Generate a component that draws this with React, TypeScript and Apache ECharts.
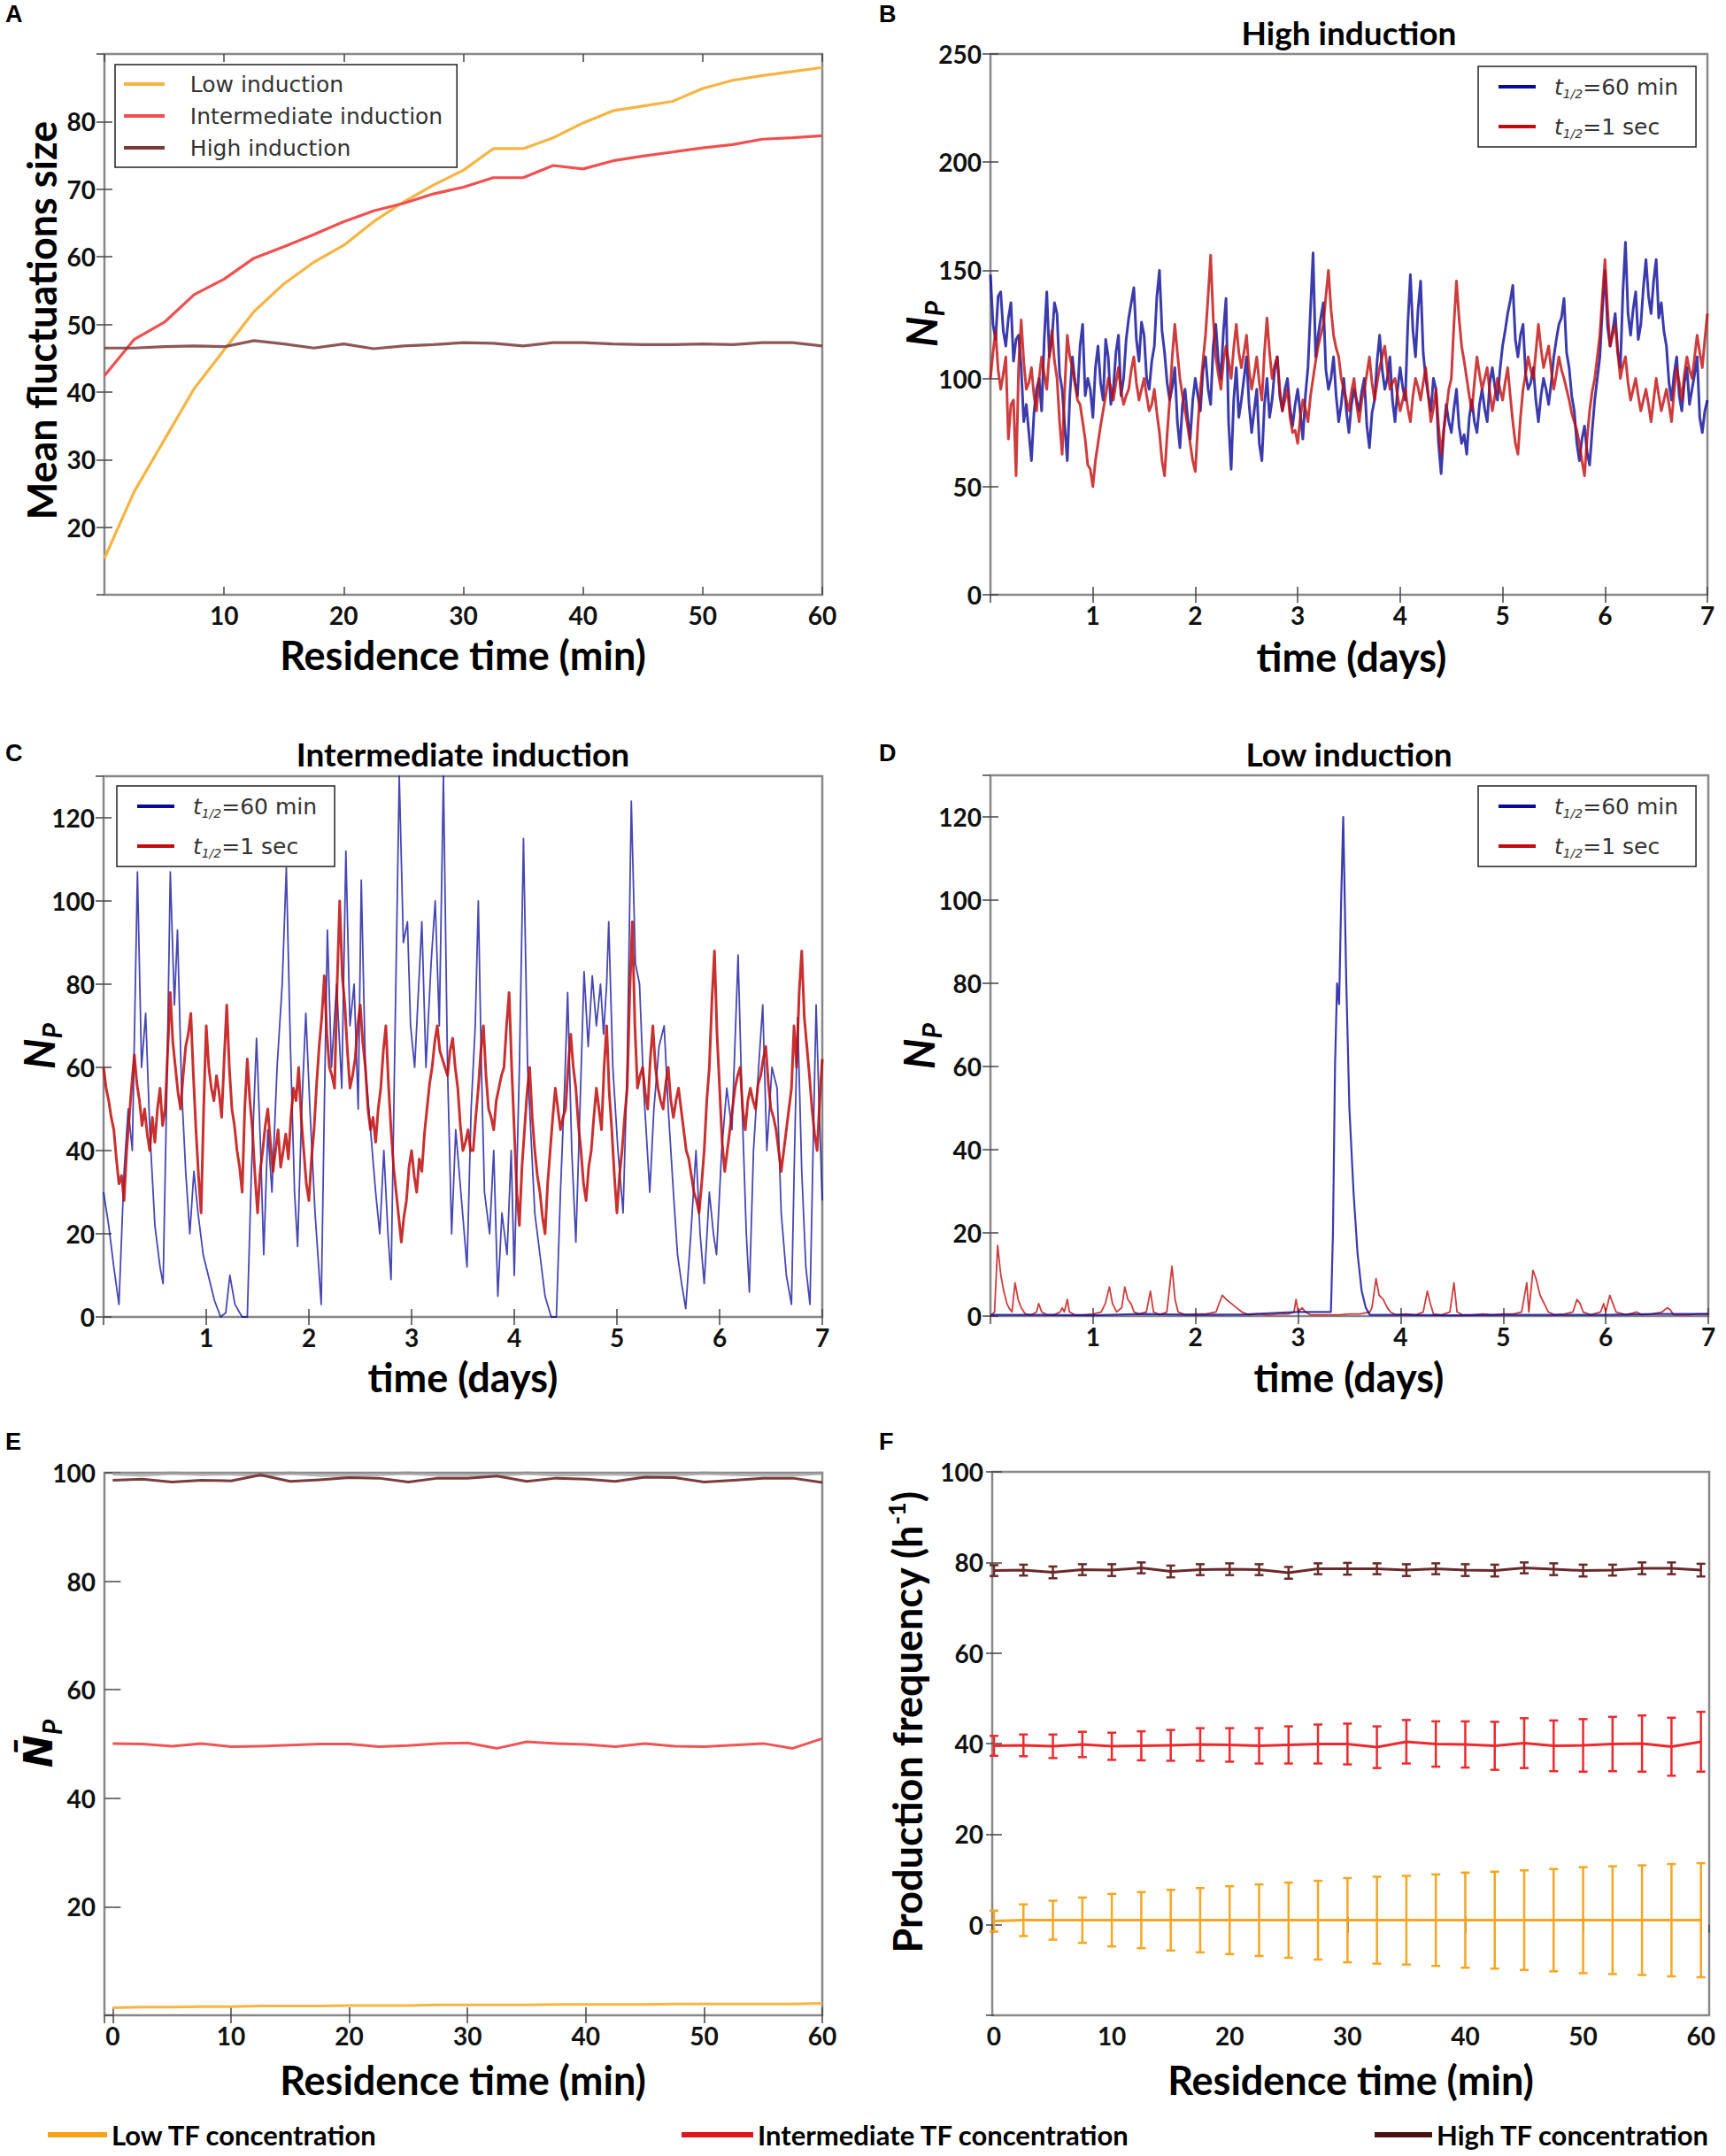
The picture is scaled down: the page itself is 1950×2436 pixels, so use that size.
import React, { useEffect, useRef } from "react";
import * as echarts from "echarts";

const LATO = "Lato, 'Open Sans', sans-serif";
const DEJAVU = "'DejaVu Sans', sans-serif";

// ---------- data ----------
const RES_TIME = [0, 2.5, 5, 7.5, 10, 12.5, 15, 17.5, 20, 22.5, 25, 27.5, 30, 32.5, 35, 37.5, 40, 42.5, 45, 47.5, 50, 52.5, 55, 57.5, 60];

const A_LOW = [15.4, 25.3, 32.9, 40.5, 46.2, 51.9, 56.0, 59.2, 61.7, 65.2, 68.1, 70.6, 72.8, 76.0, 76.0, 77.6, 79.8, 81.6, 82.3, 83.0, 84.9, 86.1, 86.8, 87.4, 88.0];
const A_MID = [42.4, 47.8, 50.3, 54.4, 56.7, 59.8, 61.5, 63.3, 65.2, 66.8, 67.9, 69.3, 70.3, 71.7, 71.7, 73.5, 73.0, 74.2, 74.9, 75.5, 76.1, 76.6, 77.4, 77.6, 77.9];
const A_HIGH = [46.5, 46.5, 46.7, 46.8, 46.7, 47.6, 47.1, 46.5, 47.1, 46.4, 46.8, 47.0, 47.3, 47.2, 46.8, 47.3, 47.3, 47.1, 47.0, 47.0, 47.1, 47.0, 47.3, 47.3, 46.8];

const DAY_STEP = 0.025;
const B_SLOW = [148, 125, 118, 138, 140, 122, 115, 128, 135, 108, 118, 120, 105, 80, 88, 75, 62, 84, 95, 100,
  85, 118, 140, 110, 118, 135, 130, 102, 95, 78, 62, 92, 110, 98, 92, 115, 125, 92, 100, 95,
  82, 105, 115, 98, 90, 118, 110, 88, 95, 112, 120, 92, 100, 118, 128, 135, 142, 118, 108, 126,
  120, 100, 95, 108, 115, 138, 150, 122, 112, 98, 90, 96, 105, 80, 68, 88, 95, 82, 72, 90,
  100, 92, 85, 104, 110, 95, 88, 115, 125, 108, 100, 122, 137, 80, 58, 90, 105, 82, 90, 100,
  110, 88, 75, 85, 95, 70, 62, 88, 100, 82, 90, 104, 110, 92, 85, 95, 100, 86, 78, 88,
  95, 84, 72, 92, 105, 132, 158, 110, 120, 128, 135, 104, 95, 100, 110, 92, 80, 88, 100, 85,
  75, 88, 95, 90, 85, 94, 100, 78, 68, 84, 90, 108, 120, 104, 95, 100, 110, 90, 80, 95,
  105, 96, 90, 125, 148, 122, 110, 132, 145, 112, 100, 92, 85, 100, 95, 70, 56, 75, 88, 80,
  75, 86, 95, 78, 70, 74, 65, 82, 90, 80, 75, 88, 95, 86, 80, 98, 105, 96, 90, 104,
  115, 122, 130, 136, 143, 118, 110, 120, 125, 102, 95, 98, 105, 90, 80, 92, 100, 95, 88, 98,
  110, 118, 125, 128, 137, 112, 105, 92, 85, 70, 62, 72, 78, 66, 60, 76, 90, 100, 110, 132,
  150, 124, 115, 122, 130, 112, 105, 140, 163, 130, 120, 132, 140, 118, 125, 142, 155, 138, 130, 145,
  155, 128, 135, 122, 115, 98, 90, 102, 110, 92, 85, 98, 105, 88, 95, 102, 110, 82, 75, 85,
  90];
const B_FAST = [100, 112, 122, 104, 95, 102, 110, 72, 88, 90, 55, 105, 127, 108, 95, 98, 105, 92, 85, 100,
  110, 102, 95, 112, 122, 108, 100, 80, 65, 95, 120, 110, 105, 98, 90, 88, 80, 72, 60, 58,
  50, 62, 70, 78, 85, 92, 100, 96, 90, 98, 105, 94, 88, 92, 95, 104, 110, 98, 90, 95,
  100, 92, 85, 88, 95, 84, 75, 62, 55, 74, 90, 110, 125, 112, 100, 92, 85, 78, 70, 62,
  57, 78, 95, 108, 120, 138, 157, 128, 110, 102, 95, 108, 115, 108, 100, 114, 125, 112, 105, 112,
  120, 104, 95, 102, 110, 98, 90, 112, 128, 112, 100, 106, 110, 95, 85, 90, 95, 82, 75, 76,
  70, 82, 90, 86, 80, 92, 100, 108, 115, 120, 125, 138, 150, 132, 120, 114, 110, 100, 95, 90,
  85, 94, 100, 88, 80, 90, 95, 102, 110, 98, 90, 98, 105, 110, 115, 104, 95, 98, 100, 92,
  85, 90, 95, 86, 80, 92, 100, 96, 90, 98, 105, 92, 80, 86, 95, 78, 65, 76, 85, 95,
  100, 125, 145, 128, 115, 108, 100, 92, 85, 98, 110, 102, 95, 100, 105, 94, 85, 92, 100, 95,
  90, 98, 105, 92, 80, 70, 65, 82, 95, 102, 110, 104, 100, 112, 125, 114, 105, 110, 115, 104,
  95, 102, 110, 104, 100, 95, 90, 84, 80, 76, 70, 62, 55, 72, 85, 94, 100, 110, 120, 138,
  155, 132, 115, 120, 125, 112, 100, 106, 110, 98, 90, 95, 100, 92, 85, 90, 95, 88, 80, 90,
  100, 92, 85, 90, 95, 88, 80, 94, 105, 98, 90, 102, 110, 104, 100, 110, 120, 112, 105, 118,
  130];

const C_SLOW_PTS = [[0, 30], [0.05, 22], [0.1, 12], [0.15, 3], [0.2, 35], [0.24, 50], [0.28, 40], [0.33, 107], [0.37, 60], [0.41, 73], [0.45, 45], [0.5, 22], [0.55, 12], [0.58, 8], [0.62, 60], [0.65, 107], [0.69, 75], [0.72, 93], [0.76, 55], [0.8, 35], [0.84, 20], [0.88, 35], [0.92, 25], [0.97, 15], [1.02, 10], [1.08, 4], [1.14, 0], [1.19, 1], [1.23, 10], [1.28, 3], [1.35, 0], [1.4, 0], [1.44, 35], [1.49, 67], [1.53, 40], [1.56, 15], [1.6, 45], [1.64, 30], [1.69, 60], [1.74, 80], [1.78, 108], [1.82, 65], [1.86, 30], [1.89, 17], [1.93, 50], [1.97, 73], [2.01, 50], [2.06, 25], [2.12, 3], [2.15, 50], [2.18, 93], [2.22, 60], [2.27, 80], [2.32, 55], [2.36, 112], [2.4, 70], [2.44, 80], [2.48, 50], [2.51, 105], [2.55, 60], [2.6, 45], [2.65, 30], [2.69, 20], [2.73, 40], [2.77, 20], [2.8, 9], [2.84, 70], [2.88, 130], [2.92, 90], [2.96, 95], [2.99, 70], [3.03, 60], [3.07, 80], [3.1, 95], [3.14, 60], [3.19, 85], [3.23, 100], [3.27, 70], [3.31, 130], [3.35, 60], [3.39, 20], [3.43, 45], [3.48, 30], [3.54, 12], [3.58, 50], [3.62, 70], [3.65, 100], [3.68, 60], [3.71, 30], [3.76, 20], [3.8, 40], [3.84, 5], [3.88, 25], [3.93, 15], [3.97, 40], [4.0, 10], [4.05, 60], [4.09, 115], [4.13, 60], [4.17, 40], [4.2, 25], [4.25, 15], [4.3, 5], [4.36, 0], [4.41, 0], [4.45, 30], [4.49, 55], [4.52, 78], [4.56, 40], [4.6, 18], [4.64, 50], [4.68, 83], [4.72, 65], [4.76, 82], [4.8, 70], [4.84, 80], [4.87, 68], [4.9, 80], [4.92, 95], [4.96, 60], [5.01, 40], [5.06, 25], [5.1, 60], [5.14, 124], [5.18, 85], [5.22, 80], [5.26, 55], [5.32, 30], [5.36, 50], [5.41, 65], [5.46, 70], [5.5, 50], [5.55, 30], [5.59, 15], [5.63, 8], [5.67, 2], [5.72, 20], [5.77, 40], [5.81, 20], [5.85, 8], [5.9, 30], [5.94, 20], [5.97, 15], [6.02, 40], [6.07, 55], [6.12, 45], [6.18, 87], [6.22, 50], [6.26, 20], [6.29, 6], [6.33, 40], [6.38, 60], [6.42, 75], [6.46, 40], [6.51, 60], [6.56, 55], [6.6, 25], [6.65, 10], [6.7, 3], [6.73, 40], [6.76, 72], [6.8, 35], [6.84, 12], [6.88, 3], [6.91, 40], [6.94, 75], [6.97, 50], [7.0, 28]];
const C_FAST = [60, 55, 52, 48, 45, 38, 32, 34, 28, 40, 48, 56, 63, 56, 52, 46, 50, 44, 40, 48,
  42, 50, 55, 46, 50, 64, 78, 66, 60, 54, 50, 58, 65, 68, 73, 58, 45, 34, 25, 50,
  70, 60, 55, 52, 58, 54, 48, 62, 75, 60, 50, 46, 40, 36, 30, 50, 62, 52, 45, 34,
  25, 35, 40, 46, 50, 42, 35, 40, 45, 36, 40, 44, 38, 48, 55, 52, 60, 48, 40, 32,
  28, 38, 45, 56, 65, 72, 82, 68, 60, 58, 55, 80, 100, 82, 75, 64, 55, 58, 62, 70,
  75, 66, 60, 50, 45, 48, 42, 50, 55, 64, 70, 56, 45, 36, 30, 24, 18, 24, 28, 36,
  40, 34, 30, 38, 35, 44, 50, 56, 60, 66, 70, 64, 62, 60, 58, 64, 67, 60, 55, 46,
  40, 42, 45, 40, 40, 48, 55, 64, 70, 58, 50, 48, 45, 52, 55, 58, 60, 70, 78, 60,
  45, 30, 22, 36, 45, 54, 60, 48, 40, 34, 30, 24, 20, 32, 40, 48, 55, 50, 45, 48,
  50, 60, 68, 60, 55, 46, 40, 32, 28, 36, 40, 48, 55, 50, 45, 60, 70, 54, 45, 34,
  25, 34, 40, 48, 55, 78, 95, 70, 55, 58, 60, 54, 50, 62, 70, 60, 55, 52, 50, 56,
  60, 52, 48, 52, 55, 50, 45, 40, 38, 34, 30, 28, 25, 32, 40, 52, 60, 76, 88, 68,
  55, 42, 35, 40, 45, 50, 55, 58, 60, 50, 45, 52, 55, 52, 50, 56, 58, 62, 65, 56,
  50, 48, 45, 40, 35, 40, 45, 50, 55, 70, 60, 78, 88, 72, 65, 58, 50, 44, 40, 52,
  62];

const D_SLOW_PTS = [[0, 0.3], [0.5, 0.3], [1.0, 0.2], [1.5, 0.5], [2.0, 0.3], [2.5, 0.4], [2.8, 0.8], [3.0, 1], [3.2, 1], [3.32, 1], [3.34, 20], [3.36, 60], [3.38, 80], [3.4, 75], [3.42, 100], [3.44, 120], [3.47, 80], [3.5, 50], [3.54, 30], [3.58, 15], [3.62, 6], [3.66, 2], [3.7, 0.3], [4.0, 0.3], [4.5, 0.2], [5.0, 0.3], [5.5, 0.3], [6.0, 0.3], [6.5, 0.5], [7.0, 0.5]];
const D_FAST_PTS = [[0, 0], [0.04, 1], [0.07, 17], [0.1, 10], [0.13, 6], [0.16, 3], [0.18, 2], [0.21, 1], [0.24, 8], [0.27, 4], [0.3, 2], [0.34, 0.5], [0.4, 0.3], [0.45, 1], [0.47, 3], [0.5, 1], [0.55, 0.3], [0.62, 0.3], [0.68, 1], [0.7, 2], [0.72, 1], [0.75, 4], [0.77, 1], [0.82, 0.3], [0.9, 0.3], [1.0, 0.5], [1.08, 1], [1.12, 3], [1.16, 7], [1.19, 3], [1.23, 1], [1.28, 2], [1.31, 7], [1.34, 4], [1.37, 3], [1.4, 1], [1.45, 0.5], [1.52, 1], [1.56, 6], [1.59, 1], [1.65, 0.3], [1.72, 1], [1.77, 12], [1.8, 4], [1.83, 1], [1.9, 0.3], [2.0, 0.5], [2.1, 0.5], [2.2, 1], [2.26, 5], [2.3, 4], [2.35, 3], [2.4, 2], [2.45, 1], [2.52, 0.3], [2.6, 0.5], [2.7, 0.3], [2.8, 0.5], [2.9, 0.5], [2.96, 1], [2.98, 4], [3.0, 1], [3.04, 2], [3.07, 1], [3.12, 0.3], [3.2, 0.3], [3.3, 0.3], [3.4, 0.3], [3.5, 0.5], [3.6, 0.5], [3.7, 1], [3.72, 2], [3.76, 9], [3.79, 5], [3.83, 4], [3.87, 2], [3.9, 1], [3.95, 0.3], [4.05, 0.5], [4.15, 0.3], [4.22, 1], [4.26, 6], [4.29, 3], [4.32, 0.5], [4.4, 0.3], [4.48, 1], [4.52, 8], [4.55, 1], [4.6, 0.3], [4.7, 0.3], [4.8, 0.5], [4.9, 0.3], [5.0, 0.5], [5.1, 0.5], [5.18, 1], [5.23, 8], [5.25, 1], [5.29, 11], [5.32, 9], [5.36, 5], [5.4, 3], [5.44, 1], [5.5, 0.3], [5.6, 0.5], [5.68, 1], [5.72, 4], [5.75, 3], [5.78, 1], [5.85, 0.3], [5.95, 1], [5.98, 3], [6.0, 1], [6.04, 5], [6.07, 3], [6.1, 1], [6.2, 0.3], [6.3, 1], [6.35, 0.3], [6.45, 0.5], [6.55, 1], [6.6, 2], [6.63, 1.5], [6.66, 0.3], [6.8, 0.3], [6.9, 0.5], [7.0, 0.5]];

const E_LOW = [1.4, 1.5, 1.5, 1.6, 1.6, 1.7, 1.7, 1.7, 1.8, 1.8, 1.8, 1.9, 1.9, 1.9, 1.9, 2.0, 2.0, 2.0, 2.0, 2.1, 2.1, 2.1, 2.1, 2.1, 2.2];
const E_MID = [50.1, 50.0, 49.6, 50.1, 49.5, 49.6, 49.8, 50.0, 50.0, 49.5, 49.7, 50.1, 50.2, 49.2, 50.4, 50.1, 49.9, 49.5, 50.1, 49.6, 49.5, 49.8, 50.1, 49.2, 51.0];
const E_HIGH = [98.6, 98.8, 98.3, 98.6, 98.5, 99.6, 98.4, 98.7, 99.1, 99.0, 98.3, 99.0, 99.0, 99.4, 98.4, 99.0, 98.8, 98.4, 99.2, 99.1, 98.3, 98.6, 99.0, 99.0, 98.2];
const E_GREY = [99.8, 99.6, 99.9, 99.7, 99.8, 99.5, 99.9, 99.6, 99.5, 99.7, 99.9, 99.6, 99.6, 99.5, 99.9, 99.6, 99.7, 99.8, 99.5, 99.6, 99.9, 99.7, 99.6, 99.6, 99.9];

const F_LOW = [0.8, 1.0, 1.0, 1.0, 1.0, 1.0, 1.0, 1.0, 1.0, 1.0, 1.0, 1.0, 1.0, 1.0, 1.0, 1.0, 1.0, 1.0, 1.0, 1.0, 1.0, 1.0, 1.0, 1.0, 1.0];
const F_LOW_ERR = [2.3, 3.5, 4.3, 5.0, 5.8, 6.2, 6.7, 7.1, 7.5, 7.9, 8.3, 8.7, 9.3, 9.6, 9.8, 10.1, 10.5, 10.7, 11.0, 11.3, 11.7, 11.9, 12.1, 12.4, 12.6];
const F_MID = [39.5, 39.6, 39.4, 39.8, 39.4, 39.5, 39.6, 39.8, 39.7, 39.5, 39.7, 39.9, 39.9, 39.2, 40.4, 39.9, 39.8, 39.5, 40.1, 39.5, 39.6, 39.9, 40.0, 39.3, 40.4];
const F_MID_ERR = [2.2, 2.4, 2.6, 2.8, 3.0, 3.2, 3.4, 3.6, 3.7, 3.9, 4.1, 4.3, 4.5, 4.6, 4.8, 5.0, 5.1, 5.3, 5.5, 5.6, 5.8, 6.0, 6.2, 6.4, 6.6];
const F_HIGH = [78.2, 78.3, 77.8, 78.4, 78.3, 78.8, 78.0, 78.4, 78.5, 78.4, 77.7, 78.6, 78.6, 78.6, 78.3, 78.6, 78.3, 78.2, 78.8, 78.5, 78.2, 78.3, 78.7, 78.7, 78.3];
const F_HIGH_ERR = [1.2, 1.2, 1.3, 1.2, 1.3, 1.2, 1.3, 1.2, 1.3, 1.2, 1.3, 1.2, 1.3, 1.2, 1.3, 1.2, 1.3, 1.3, 1.2, 1.3, 1.3, 1.2, 1.3, 1.3, 1.4];

const LEG_A = ["Low induction", "Intermediate induction", "High induction"];
const LEG_T = ["t1/2=60 min", "t1/2=1 sec"];
const LEG_TF = ["Low TF concentration", "Intermediate TF concentration", "High TF concentration"];

// ---------- colours ----------
const COL_A = ["#f7b443", "#f05050", "#7a3a3a"];
const COL_BLUE = "#0a0a98";
const COL_RED = "#c00c0c";
const COL_E = ["#f8b545", "#ef5555", "#7b3c3c"];
const COL_F = ["#f5a623", "#ec2a2e", "#6a2a2a"];
const COL_LEG = ["#f7a21b", "#e3131b", "#4d1010"];

const RECTS = [
  { l: 118, t: 61, r: 929, b: 672 },
  { l: 1119, t: 61, r: 1929, b: 672 },
  { l: 117, t: 877, r: 929, b: 1488 },
  { l: 1119, t: 876, r: 1930, b: 1487 },
  { l: 118, t: 1664, r: 929, b: 2277 },
  { l: 1121, t: 1663, r: 1931, b: 2277 },
];

const pairs = (xs: number[], ys: number[]) => xs.map((x, i) => [x, ys[i]]);
const grid = (vals: number[]) => vals.map((v, i) => [Math.round(i * DAY_STEP * 1000) / 1000, v]);

function buildOption() {
  const xAxes: any[] = [];
  const yAxes: any[] = [];
  const tickLabel = { color: "#111", fontFamily: LATO, fontWeight: "bold", fontSize: 28, lineHeight: 30 };
  const base = (gi: number, pos: string) => ({
    type: "value",
    gridIndex: gi,
    position: pos,
    axisLine: { show: false },
    splitLine: { show: false },
    axisTick: { show: true, inside: true, length: 9, lineStyle: { color: "#444", width: 1.5 } },
  });
  function addAxes(gi: number, xo: any, xl: any, yo: any, yl: any) {
    const xi = xAxes.length;
    const yi = yAxes.length;
    xAxes.push({ ...base(gi, "bottom"), ...xo, axisLabel: { ...tickLabel, margin: 8, ...xl } });
    xAxes.push({ ...base(gi, "top"), ...xo, axisLabel: { show: false } });
    yAxes.push({ ...base(gi, "left"), ...yo, axisLabel: { ...tickLabel, margin: 10, ...yl } });
    yAxes.push({ ...base(gi, "right"), ...yo, axisLabel: { show: false } });
    return { xi, yi };
  }

  const grids = RECTS.map((r) => ({
    left: r.l, top: r.t, width: r.r - r.l, height: r.b - r.t,
    show: true, borderColor: "#888", borderWidth: 2.5, backgroundColor: "transparent",
  }));

  const ax = [
    addAxes(0, { min: 0, max: 60, interval: 10 }, { showMinLabel: false }, { min: 10, max: 90, interval: 10 }, { showMinLabel: false, showMaxLabel: false }),
    addAxes(1, { min: 0, max: 7, interval: 1 }, { showMinLabel: false }, { min: 0, max: 250, interval: 50 }, {}),
    addAxes(2, { min: 0, max: 7, interval: 1 }, { showMinLabel: false }, { min: 0, max: 130, interval: 20 }, { showMaxLabel: false }),
    addAxes(3, { min: 0, max: 7, interval: 1 }, { showMinLabel: false }, { min: 0, max: 130, interval: 20 }, { showMaxLabel: false }),
    addAxes(4, { min: -0.7, max: 60, minInterval: 10, maxInterval: 10, splitNumber: 6 }, { showMinLabel: false }, { min: 0, max: 100, interval: 20 }, { showMinLabel: false }),
    addAxes(5, { min: -0.15, max: 60.7, minInterval: 10, maxInterval: 10, splitNumber: 6 }, { showMinLabel: false, showMaxLabel: false }, { min: -20, max: 100, interval: 20 }, { showMinLabel: false }),
  ];

  const line = (p: number, name: string, data: any[], color: string, width: number, opacity = 1, z = 2) => ({
    type: "line", name, data, xAxisIndex: ax[p].xi, yAxisIndex: ax[p].yi,
    showSymbol: false, symbol: "none", color, z,
    lineStyle: { color, width, opacity, join: "round" }, silent: true,
  });

  const errSeries = (name: string, means: number[], errs: number[], color: string) => ({
    type: "custom", name, xAxisIndex: ax[5].xi, yAxisIndex: ax[5].yi, z: 3, silent: true,
    data: RES_TIME.map((x, i) => [x, means[i], errs[i]]),
    encode: { x: 0, y: 1 },
    renderItem: (_p: any, api: any) => {
      const x = api.value(0), m = api.value(1), h = api.value(2);
      const top = api.coord([x, m + h]);
      const bot = api.coord([x, m - h]);
      const c = 5;
      const st = { stroke: color, lineWidth: 2.5 };
      return {
        type: "group",
        children: [
          { type: "line", shape: { x1: top[0], y1: top[1], x2: bot[0], y2: bot[1] }, style: st },
          { type: "line", shape: { x1: top[0] - c, y1: top[1], x2: top[0] + c, y2: top[1] }, style: st },
          { type: "line", shape: { x1: bot[0] - c, y1: bot[1], x2: bot[0] + c, y2: bot[1] }, style: st },
        ],
      };
    },
  });

  const series: any[] = [
    line(0, LEG_A[0], pairs(RES_TIME, A_LOW), COL_A[0], 3.2),
    line(0, LEG_A[1], pairs(RES_TIME, A_MID), COL_A[1], 3.2),
    line(0, LEG_A[2], pairs(RES_TIME, A_HIGH), COL_A[2], 3.2, 0.85),
    line(1, LEG_T[0], grid(B_SLOW), COL_BLUE, 3, 0.8),
    line(1, LEG_T[1], grid(B_FAST), COL_RED, 3, 0.8, 3),
    line(2, LEG_T[0], C_SLOW_PTS, COL_BLUE, 1.8, 0.75),
    line(2, LEG_T[1], grid(C_FAST), COL_RED, 3, 0.85, 3),
    line(3, LEG_T[1], D_FAST_PTS, COL_RED, 1.8, 0.8, 2),
    line(3, LEG_T[0], D_SLOW_PTS, COL_BLUE, 2.2, 0.8, 3),
    line(4, "grey100", pairs(RES_TIME, E_GREY), "#9a9a9a", 4, 0.7),
    line(4, LEG_TF[0], pairs(RES_TIME, E_LOW), COL_E[0], 3),
    line(4, LEG_TF[1], pairs(RES_TIME, E_MID), COL_E[1], 3),
    line(4, LEG_TF[2], pairs(RES_TIME, E_HIGH), COL_E[2], 3),
    line(5, "F low", pairs(RES_TIME, F_LOW), COL_F[0], 3),
    line(5, "F mid", pairs(RES_TIME, F_MID), COL_F[1], 3),
    line(5, "F high", pairs(RES_TIME, F_HIGH), COL_F[2], 3),
    errSeries("F low err", F_LOW, F_LOW_ERR, COL_F[0]),
    errSeries("F mid err", F_MID, F_MID_ERR, COL_F[1]),
    errSeries("F high err", F_HIGH, F_HIGH_ERR, COL_F[2]),
  ];

  const tRich = {
    t: { fontFamily: DEJAVU, fontSize: 25, fontStyle: "italic", color: "#333", lineHeight: 30 },
    s: { fontFamily: DEJAVU, fontSize: 14, fontStyle: "italic", color: "#333", verticalAlign: "bottom" },
    n: { fontFamily: DEJAVU, fontSize: 25, color: "#333", lineHeight: 30 },
  };
  const tLegend = (left: number, top: number) => ({
    data: LEG_T, left, top, orient: "vertical", icon: "rect", itemWidth: 42, itemHeight: 4, itemGap: 15,
    padding: [8, 20, 8, 23], borderColor: "#222", borderWidth: 1.5, backgroundColor: "#fff",
    selectedMode: false,
    formatter: (n: string) => (n === LEG_T[0] ? "  {t|t}{s|1/2}{n|=60 min}" : "  {t|t}{s|1/2}{n|=1 sec}"),
    textStyle: { fontFamily: DEJAVU, fontSize: 25, color: "#333", lineHeight: 30, rich: tRich },
  });

  const bottomLegend = (i: number, left: number, w: number) => ({
    data: [{ name: LEG_TF[i], itemStyle: { color: COL_LEG[i] } }],
    left, top: 2394, icon: "rect", itemWidth: w, itemHeight: 6, padding: 0, selectedMode: false,
    textStyle: { fontFamily: LATO, fontWeight: "bold", fontSize: 31, color: "#000", lineHeight: 36 },
  });

  const legends = [
    {
      data: LEG_A, left: 130, top: 73, orient: "vertical", icon: "rect", itemWidth: 46, itemHeight: 4, itemGap: 8,
      padding: [8, 16, 8, 10], borderColor: "#222", borderWidth: 1.5, backgroundColor: "#fff", selectedMode: false,
      formatter: (n: string) => "   " + n,
      textStyle: { fontFamily: DEJAVU, fontSize: 25, color: "#333", lineHeight: 28 },
    },
    tLegend(1670, 75),
    tLegend(132, 888),
    tLegend(1670, 888),
    bottomLegend(0, 54, 67),
    bottomLegend(1, 770, 81),
    bottomLegend(2, 1553, 65),
  ];

  const txt = (text: string, x: number, y: number, font: string, extra: any = {}, rotation = 0) => ({
    type: "text", x, y, rotation, z: 20, silent: true,
    style: { text, font, fill: "#000", textAlign: "center", textVerticalAlign: "middle", align: "center", verticalAlign: "middle", ...extra },
  });
  const NAME = `bold 45px ${LATO}`;
  const TITLE = `bold 37px ${LATO}`;
  const LETTER = "bold 27px 'Liberation Sans', Arial, sans-serif";
  const npRich = {
    n: { font: `italic bold 48px ${LATO}`, fill: "#000", lineHeight: 60 },
    p: { font: `italic bold 30px ${LATO}`, fill: "#000", verticalAlign: "bottom" },
  };
  const nbarRich = {
    n: { font: "italic bold 44px 'DejaVu Sans', sans-serif", fill: "#000", lineHeight: 60 },
    p: { font: `italic bold 30px ${LATO}`, fill: "#000", verticalAlign: "bottom" },
  };
  const R90 = Math.PI / 2;

  const graphic = [
    txt("A", 6, 16, LETTER, { textAlign: "left", align: "left" }),
    txt("B", 993, 16, LETTER, { textAlign: "left", align: "left" }),
    txt("C", 6, 851, LETTER, { textAlign: "left", align: "left" }),
    txt("D", 993, 851, LETTER, { textAlign: "left", align: "left" }),
    txt("E", 6, 1629, LETTER, { textAlign: "left", align: "left" }),
    txt("F", 993, 1629, LETTER, { textAlign: "left", align: "left" }),
    txt("High induction", 1524, 36, TITLE),
    txt("Intermediate induction", 523, 851, TITLE),
    txt("Low induction", 1524, 851, TITLE),
    txt("Mean fluctuations size", 47, 362, NAME, {}, R90),
    txt("Residence time (min)", 523, 740, NAME),
    txt("time (days)", 1527, 742, NAME),
    txt("{n|N}{p|P}", 1040, 366, "", { rich: npRich }, R90),
    txt("time (days)", 523, 1556, NAME),
    txt("{n|N}{p|P}", 43, 1182, "", { rich: npRich }, R90),
    txt("time (days)", 1524, 1556, NAME),
    txt("{n|N}{p|P}", 1037, 1182, "", { rich: npRich }, R90),
    txt("Residence time (min)", 523, 2350, NAME),
    txt("{n|N\u0304}{p|P}", 43, 1970, "", { rich: nbarRich }, R90),
    txt("Residence time (min)", 1526, 2350, NAME),
    txt("{a|Production frequency (h}{b|-1}{a|)}", 1025, 1946, "", {
      rich: {
        a: { font: NAME, fill: "#000", lineHeight: 52 },
        b: { font: `bold 27px ${LATO}`, fill: "#000", verticalAlign: "top" },
      },
    }, R90),
  ];

  return {
    animation: false,
    backgroundColor: "#fff",
    grid: grids,
    xAxis: xAxes,
    yAxis: yAxes,
    legend: legends,
    series,
    graphic,
  };
}

export default function App() {
  const ref = useRef<HTMLDivElement>(null);
  useEffect(() => {
    if (!ref.current) return;
    const chart = echarts.init(ref.current, null, { renderer: "svg", width: 1950, height: 2436 });
    chart.setOption(buildOption() as any);
    return () => chart.dispose();
  }, []);
  return (
    <div
      ref={ref}
      style={{ position: "absolute", left: 0, top: 0, width: 1950, height: 2436, background: "#fff" }}
    />
  );
}
